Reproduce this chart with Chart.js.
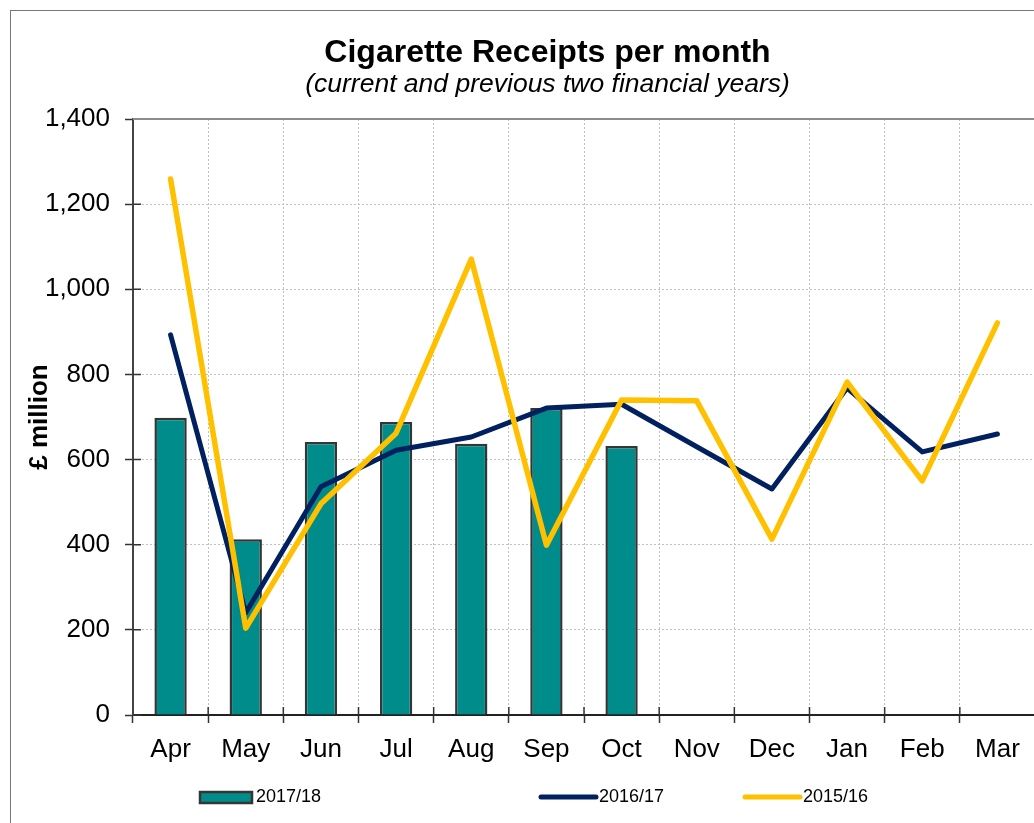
<!DOCTYPE html>
<html>
<head>
<meta charset="utf-8">
<title>Cigarette Receipts per month</title>
<script src="https://cdn.jsdelivr.net/npm/chart.js@4.4.1/dist/chart.umd.min.js"></script>
<style>
  html, body { margin: 0; padding: 0; background: #fff; overflow: hidden; }
  #wrap { position: absolute; left: 0; top: 0; width: 1095px; height: 823px; }
  #frame { position: absolute; left: 10px; top: 10px; width: 1200px; height: 900px; border: 1px solid #777; }
</style>
</head>
<body>
<div id="wrap">
  <div id="frame"></div>
  <canvas id="myChart" width="1095" height="823" style="position:absolute;left:0;top:0"></canvas>
</div>
<script>
const months = ['Apr', 'May', 'Jun', 'Jul', 'Aug', 'Sep', 'Oct', 'Nov', 'Dec', 'Jan', 'Feb', 'Mar'];
const receipts1718 = [698, 413, 641, 688, 637, 721, 632, null, null, null, null, null];
const receipts1617 = [893, 240, 536, 622, 653, 721, 730, 630, 531, 768, 618, 660];
const receipts1516 = [1259, 204, 496, 662, 1071, 399, 740, 738, 413, 782, 550, 921];
const yTicks = [0, 200, 400, 600, 800, 1000, 1200, 1400];

const FONT = "'Liberation Sans', Arial, sans-serif";
const ctx = document.getElementById('myChart').getContext('2d');

// excel style ticks cross the axis, chart.js only draws the outer half
const crossTicks = {
    id: 'crossTicks',
    afterDatasetsDraw(chart) {
        const {ctx, chartArea, scales} = chart;
        ctx.save();
        ctx.strokeStyle = '#333';
        ctx.lineWidth = 1.5;
        ctx.beginPath();
        scales.y.ticks.forEach(t => {
            const y = scales.y.getPixelForValue(t.value);
            ctx.moveTo(chartArea.left, y);
            ctx.lineTo(chartArea.left + 8, y);
        });
        for (let i = 1; i <= months.length; i++) {
            const x = scales.x.getPixelForValue(i - 0.5);
            ctx.moveTo(x, chartArea.bottom);
            ctx.lineTo(x, chartArea.bottom - 8);
        }
        ctx.stroke();
        // top border of plot area
        ctx.strokeStyle = '#8c8c8c';
        ctx.lineWidth = 2;
        ctx.beginPath();
        ctx.moveTo(chartArea.left, chartArea.top);
        ctx.lineTo(chartArea.right, chartArea.top);
        ctx.stroke();
        ctx.restore();
    }
};

// legend spaced like the original sheet
const sheetLegend = {
    id: 'sheetLegend',
    afterDraw(chart) {
        const {ctx} = chart;
        const ds = chart.data.datasets;
        const y = 797;
        ctx.save();
        ctx.font = '18px ' + FONT;
        ctx.fillStyle = '#000';
        ctx.textBaseline = 'middle';

        ctx.fillStyle = ds[0].backgroundColor;
        ctx.fillRect(200, 792, 52, 11);
        ctx.strokeStyle = ds[0].borderColor;
        ctx.lineWidth = 2.5;
        ctx.strokeRect(200, 792, 52, 11);
        ctx.fillStyle = '#000';
        ctx.fillText(ds[0].label, 256, y);

        ctx.lineCap = 'round';
        [[ds[1], 541, 596], [ds[2], 745, 800]].forEach(([d, x1, x2]) => {
            ctx.strokeStyle = d.borderColor;
            ctx.lineWidth = 5;
            ctx.beginPath();
            ctx.moveTo(x1, y);
            ctx.lineTo(x2, y);
            ctx.stroke();
            ctx.fillText(d.label, x2 + 3, y);
        });
        ctx.restore();
    }
};

const chart = new Chart(ctx, {
    type: 'bar',
    data: {
        labels: months,
        datasets: [{
            label: '2017/18',
            data: receipts1718,
            backgroundColor: '#008c8a',
            borderColor: '#353535',
            borderWidth: 2.5,
            barPercentage: 0.43,
            categoryPercentage: 1,
            order: 3
        }, {
            type: 'line',
            label: '2016/17',
            data: receipts1617,
            borderColor: '#002060',
            backgroundColor: '#002060',
            borderWidth: 5,
            borderCapStyle: 'round',
            borderJoinStyle: 'round',
            pointRadius: 0,
            tension: 0,
            order: 2
        }, {
            type: 'line',
            label: '2015/16',
            data: receipts1516,
            borderColor: '#ffc000',
            backgroundColor: '#ffc000',
            borderWidth: 5.5,
            borderCapStyle: 'round',
            borderJoinStyle: 'round',
            pointRadius: 0,
            tension: 0,
            order: 1
        }]
    },
    options: {
        responsive: false,
        animation: false,
        devicePixelRatio: 1,
        layout: { padding: { left: 0, right: 0, top: 0, bottom: 60 } },
        plugins: {
            legend: { display: false },
            tooltip: { enabled: false },
            title: {
                display: true,
                text: 'Cigarette Receipts per month',
                color: '#000',
                font: { family: FONT, size: 32, weight: 'bold', lineHeight: 1 },
                padding: { top: 37, bottom: 0 }
            },
            subtitle: {
                display: true,
                text: '(current and previous two financial years)',
                color: '#000',
                font: { family: FONT, size: 26.5, style: 'italic', lineHeight: 1 },
                padding: { top: 2, bottom: 21.5 }
            }
        },
        scales: {
            x: {
                grid: {
                    offset: true,
                    color: '#c0c0c0',
                    tickColor: '#333',
                    tickLength: 8,
                    tickWidth: 1.5
                },
                border: { color: '#222', width: 2, dash: [2, 2] },
                ticks: {
                    color: '#000',
                    padding: 11,
                    font: { family: FONT, size: 26 }
                },
                afterFit(scale) { scale.height = 48; }
            },
            y: {
                min: 0,
                max: 1400,
                afterBuildTicks(scale) { scale.ticks = yTicks.map(v => ({ value: v })); },
                grid: {
                    color: '#c0c0c0',
                    tickColor: '#333',
                    tickLength: 8,
                    tickWidth: 1.5
                },
                border: { color: '#444', width: 2, dash: [2, 2] },
                ticks: {
                    color: '#000',
                    padding: 15,
                    font: { family: FONT, size: 26 },
                    callback: v => v.toLocaleString('en-GB')
                },
                title: {
                    display: true,
                    text: '£ million',
                    color: '#000',
                    font: { family: FONT, size: 26, weight: 'bold', lineHeight: 1 },
                    padding: { top: 27, bottom: 0 }
                },
                afterFit(scale) { scale.width = 133; }
            },
            // empty right axis: keeps the plot edge where the sheet cropped it
            spacer: {
                position: 'right',
                display: true,
                grid: { drawOnChartArea: false, drawTicks: false },
                border: { display: false },
                ticks: { display: false },
                afterFit(scale) { scale.width = 60; }
            }
        }
    },
    plugins: [crossTicks, sheetLegend]
});
</script>
</body>
</html>
